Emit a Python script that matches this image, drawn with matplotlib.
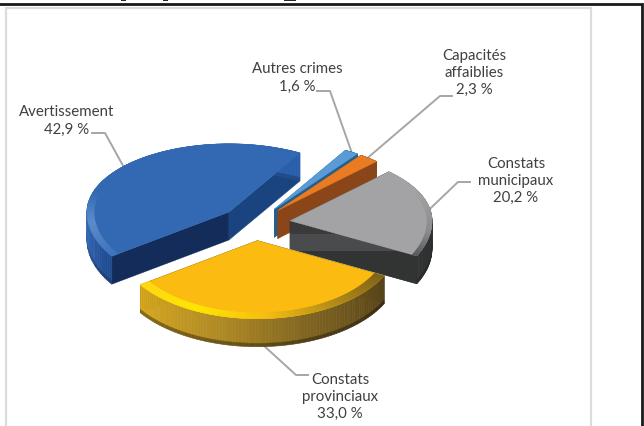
import numpy as np
import matplotlib
matplotlib.use("Agg")
import matplotlib.pyplot as plt
from matplotlib.colors import to_rgb
from matplotlib.patches import Polygon

plt.rcParams['font.family'] = ['Lato', 'DejaVu Sans']

# --- data -----------------------------------------------------------------
categories = ["Autres crimes", "Capacités\naffaiblies", "Constats\nmunicipaux",
              "Constats\nprovinciaux", "Avertissement"]
shares = [1.6, 2.3, 20.2, 33.0, 42.9]
value_labels = ["1,6 %", "2,3 %", "20,2 %", "33,0 %", "42,9 %"]

# --- styles ---------------------------------------------------------------
top_colors = ["#5B9BD5", "#E97B23", "#A3A3A5", "#FBBB10", "#3269B2"]
start_face_colors = ["#1F6092", "#8A4519", "#343636", "#3A3010", "#1A4480"]
end_face_colors = ["#1F6092", "#8A4519", "#343636", "#3A3010", "#142C5A"]
wall_stops = [["#1F6092", "#1F6092"], ["#8A4519", "#8A4519"],
              ["#2E3030", "#343636", "#3A3A3A"],
              ["#D8A81E", "#B08A24", "#7D6220", "#57441A"],
              ["#2B60AC", "#2B60AC", "#2B60AC", "#2B60AC", "#2F64B0", "#3468B4", "#1F4A8E"]]
T = "#3269B2"
rim_stops = [["#5B9BD5", "#5B9BD5"], ["#E97B23", "#E97B23"],
             ["#55575A", "#8A8A8C", "#98989A", "#A3A3A5", "#A3A3A5"],
             ["#FFD814", "#FFE600", "#F4BE12", "#B48C18", "#7E6218"],
             [T, T, T, T, T, "#5D8CCB", "#3F74BC"]]
rim_widths = [0.0, 0.0, 0.035, 0.075, 0.05]
wall_shade = [1.0, 1.0, 0.85, 0.62, 0.8]
band_colors = ("#3A3A3A", "#4A4B4D", "#323434")

# --- layout (pixels) ------------------------------------------------------
W, H = 644, 427
CX, CY = 255.0, 224.6     # pie centre
R = 142.0                 # radius
K_BACK = 0.48             # vertical squash, far half
K_FRONT = 0.55            # vertical squash, near half
EXPLODE = 35.5            # explosion
DEPTH = 28.0              # thickness
START = 60.0              # start angle, going clockwise
K_MID = 0.48
BAND = (235, 252)

label_xy = [(297, 78), (474, 73), (516, 181), (340, 397), (67, 121)]
leader_elbows = [[(317, 92), (330, 92)], [(452, 97), (440, 97)],
                 [(470, 183), (458, 183)], [(308, 376), (296, 376)],
                 [(92, 134), (105, 134)]]
leader_angles = [57.0, 50.7, 10.0, -87.0, 138.0]
top_residue = [(121, 126), (163, 168), (284, 296)]


def mix(stops, t):
    cols = np.array([to_rgb(c) for c in stops])
    return [float(np.interp(t, np.linspace(0, 1, len(cols)), cols[:, i])) for i in range(3)]


def pts(ax_, ay_, angs, r, dz=0.0):
    a = np.radians(angs)
    s = np.sin(a)
    return ax_ + r * np.cos(a), ay_ - np.where(s > 0, K_BACK, K_FRONT) * r * s + dz


fig = plt.figure(figsize=(W / 100, H / 100), dpi=100)
ax = fig.add_axes([0, 0, 1, 1])
ax.set_xlim(0, W)
ax.set_ylim(H, 0)
ax.axis("off")

# frame
ax.plot([6, 6, 591, 591], [428, 9, 9, 428], color="#DCDCDC", lw=1.6, solid_joinstyle="miter")
ax.plot([0, 642.5, 642.5], [5, 5, 428], color="#1A1A1A", lw=2.0, solid_joinstyle="miter")
for x0, x1 in top_residue:
    ax.plot([x0, x1], [1, 1], color="#222222", lw=1.4, solid_capstyle="butt")

# wedges
edges = START - np.cumsum([0.0] + shares) / sum(shares) * 360.0
for i in range(len(shares)):
    a0, a1 = edges[i], edges[i + 1]       # a0 > a1, clockwise
    mid = np.radians((a0 + a1) / 2)
    ox = CX + EXPLODE * np.cos(mid)
    oy = CY - EXPLODE * K_MID * np.sin(mid)
    z = 3 + i * 0.1

    # cut faces
    for ang, col in ((a0, end_face_colors[i]), (a1, start_face_colors[i])):
        ex, ey = pts(ox, oy, ang, R)
        ex, ey = float(ex), float(ey)
        ax.fill([ox, ex, ex, ox], [oy, ey, ey + DEPTH, oy + DEPTH],
                color=col, lw=0.3, zorder=z)
    # horizontal shading bands on the municipal wedge's cut face
    if i == 2:
        ex, ey = pts(ox, oy, a1, R)
        ex, ey = float(ex), float(ey)
        face = Polygon([(ox, oy), (ex, ey), (ex, ey + DEPTH), (ox, oy + DEPTH)],
                       transform=ax.transData, fill=False, lw=0)
        ax.add_patch(face)
        bands = [(oy - 2, BAND[0], band_colors[0]), (BAND[0], BAND[1], band_colors[1]),
                 (BAND[1], ey + DEPTH + 2, band_colors[2])]
        for y0, y1, col in bands:
            pp = ax.fill([ox, ex, ex, ox], [y0, y0, y1, y1], color=col, lw=0, zorder=z)[0]
            pp.set_clip_path(face)

    # outer wall, from low angle to high angle
    angs = np.linspace(a1, a0, 90)
    for j in range(len(angs) - 1):
        t = j / (len(angs) - 2)
        c = mix(wall_stops[i], t)
        seg = angs[j:j + 2]
        x, y = pts(ox, oy, seg, R)
        xx = np.r_[x, x[::-1]]
        ax.fill(xx, np.r_[y, (y + DEPTH * 0.88)[::-1]], color=c, lw=0.4, zorder=z)
        dark = [v * wall_shade[i] for v in c]
        ax.fill(xx, np.r_[y + DEPTH * 0.88, (y + DEPTH)[::-1]], color=dark, lw=0.4, zorder=z)

    # top face
    ex, ey = pts(ox, oy, angs, R)
    ax.fill(np.r_[ox, ex], np.r_[oy, ey], color=top_colors[i], lw=0.3, zorder=z + 0.01)

    # bevel rim
    if rim_widths[i] > 0:
        for j in range(len(angs) - 1):
            t = j / (len(angs) - 2)
            c = mix(rim_stops[i], t)
            seg = angs[j:j + 2]
            xo, yo = pts(ox, oy, seg, R)
            xi, yi = pts(ox, oy, seg, R * (1 - rim_widths[i]))
            ax.fill(np.r_[xo, xi[::-1]], np.r_[yo, yi[::-1]], color=c, lw=0.4, zorder=z + 0.02)

    # leader line, ending on the wedge rim
    lx, ly = pts(ox, oy, leader_angles[i], R)
    if -180 < leader_angles[i] < 0:
        ly = ly + DEPTH
    (e0x, e0y), (e1x, e1y) = leader_elbows[i]
    ax.plot([e0x, e1x, float(lx)], [e0y, e1y, float(ly)], color="#A6A6A6", lw=1.4, zorder=2)

    # label
    ax.text(label_xy[i][0], label_xy[i][1], categories[i] + "\n" + value_labels[i],
            ha="center", va="center", color="#404040", fontsize=10.8,
            linespacing=1.28, zorder=10)

fig.savefig("out.png", dpi=100)
